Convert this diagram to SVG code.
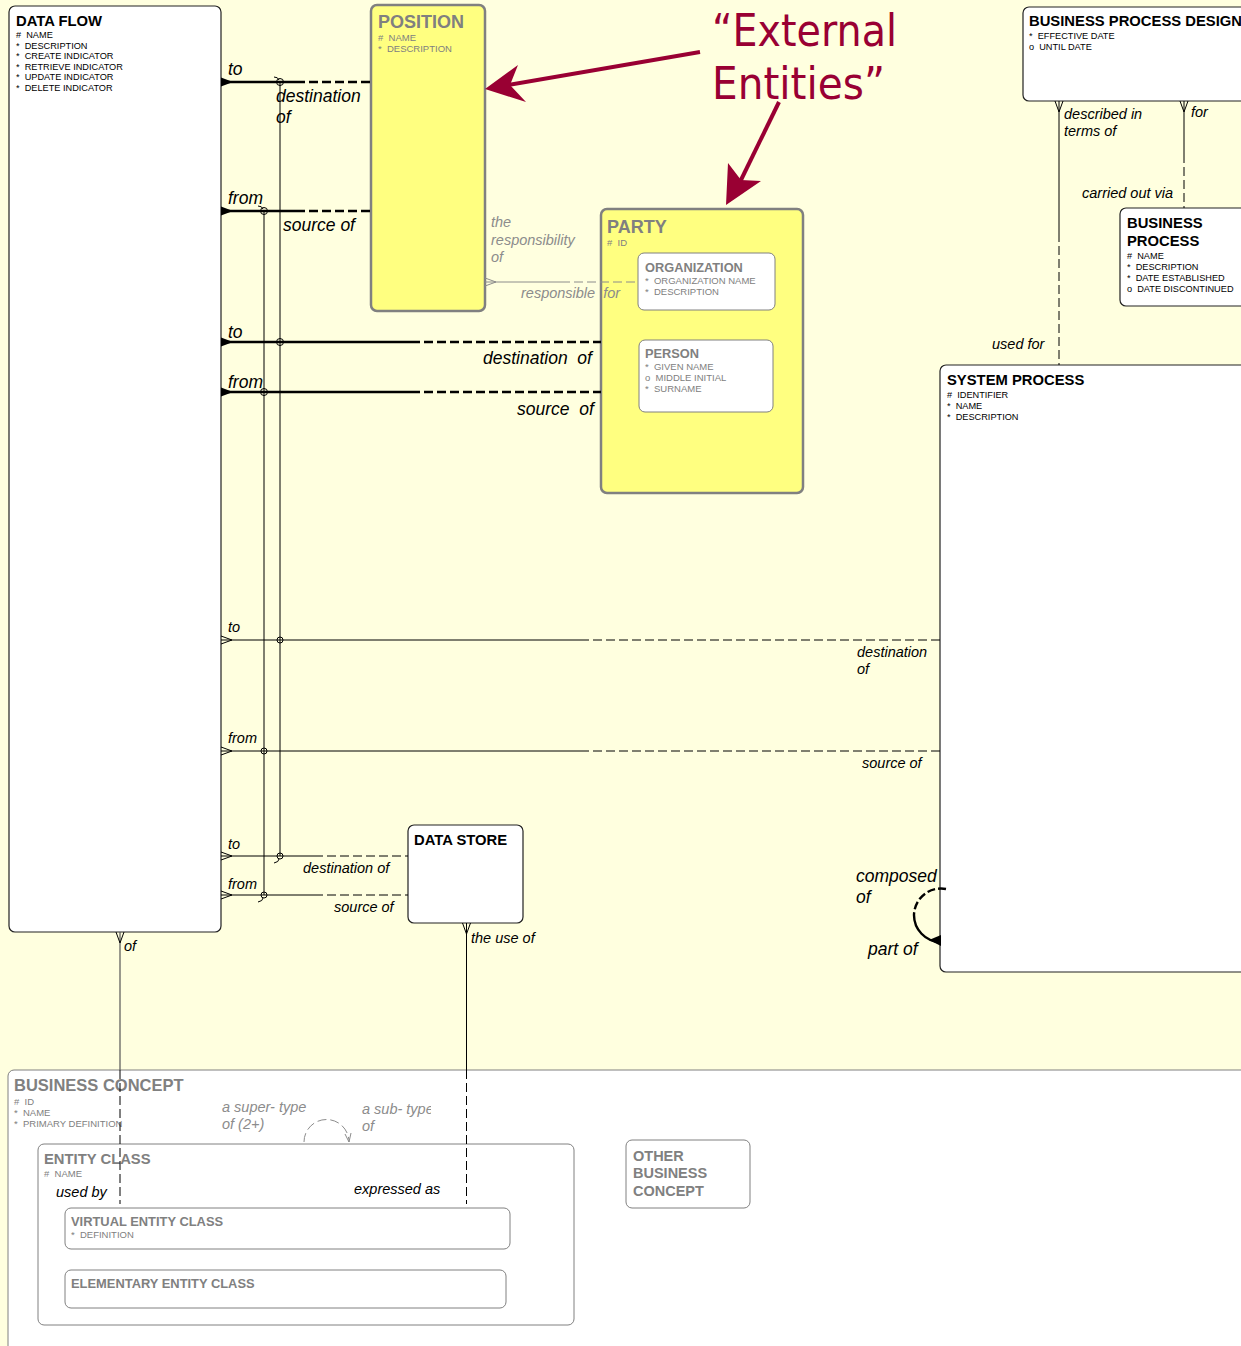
<svg xmlns="http://www.w3.org/2000/svg" width="1241" height="1346" viewBox="0 0 1241 1346">
<defs>
<style>
text{font-family:"Liberation Sans",Arial,sans-serif;white-space:pre}
.t{font-weight:bold;font-size:14.8px;fill:#000}
.tg{font-weight:bold;fill:#808080}
.a{font-size:9.2px;fill:#000}
.ag{font-size:9.5px;fill:#808080}
.rl{font-style:italic;font-size:14.5px;fill:#000}
.rlb{font-style:italic;font-size:17.5px;fill:#000}
.rlg{font-style:italic;font-size:14.5px;fill:#8c8c8c}
.ent{fill:#fff;stroke:#222;stroke-width:1.2}
.ext{fill:#ffff80;stroke:#808080;stroke-width:2.5}
.sub{fill:#fff;stroke:#808080;stroke-width:1}
.thk{stroke:#000;stroke-width:2.5;fill:none}
.thkd{stroke:#000;stroke-width:2.5;fill:none;stroke-dasharray:9 4}
.thn{stroke:#000;stroke-width:1;fill:none}
.thnd{stroke:#000;stroke-width:1;fill:none;stroke-dasharray:9 4}
.gry{stroke:#8c8c8c;stroke-width:1;fill:none}
.gryd{stroke:#8c8c8c;stroke-width:1;fill:none;stroke-dasharray:9 4}
.ring{stroke:#000;stroke-width:1;fill:none}
.ann{fill:#990033;font-family:"Comic Sans MS","DejaVu Sans",sans-serif;font-size:44px}
</style>
<clipPath id="clipSub"><rect x="350" y="1095" width="81" height="45"/></clipPath>
</defs>

<rect x="0" y="0" width="1241" height="1346" fill="#ffffdf"/>

<!-- BUSINESS CONCEPT (background container) -->
<g id="business-concept">
<rect x="8" y="1070" width="1260" height="300" rx="6" class="sub"/>
<text x="14" y="1091" class="tg" font-size="16.5">BUSINESS CONCEPT</text>
<text x="14" y="1105" class="ag">#  ID</text>
<text x="14" y="1116" class="ag">*  NAME</text>
<text x="14" y="1127" class="ag">*  PRIMARY DEFINITION</text>
</g>

<g id="entity-class">
<rect x="38" y="1144" width="536" height="181" rx="6" class="sub"/>
<text x="44" y="1164" class="tg" font-size="14.8">ENTITY CLASS</text>
<text x="44" y="1177" class="ag">#  NAME</text>
</g>

<g id="virtual-entity-class">
<rect x="65" y="1208" width="445" height="41" rx="6" class="sub"/>
<text x="71" y="1226" class="tg" font-size="12.9">VIRTUAL ENTITY CLASS</text>
<text x="71" y="1238" class="ag">*  DEFINITION</text>
</g>

<g id="elementary-entity-class">
<rect x="65" y="1270" width="441" height="38" rx="6" class="sub"/>
<text x="71" y="1288" class="tg" font-size="12.9">ELEMENTARY ENTITY CLASS</text>
</g>

<g id="other-business-concept">
<rect x="626" y="1140" width="124" height="68" rx="6" class="sub"/>
<text x="633" y="1161" class="tg" font-size="14.5">OTHER</text>
<text x="633" y="1178" class="tg" font-size="14.5">BUSINESS</text>
<text x="633" y="1196" class="tg" font-size="14.5">CONCEPT</text>
</g>

<!-- DATA FLOW -->
<g id="data-flow">
<rect x="9" y="6" width="212" height="926" rx="6" class="ent"/>
<text x="16" y="26" class="t">DATA FLOW</text>
<text x="16" y="38" class="a">#  NAME</text>
<text x="16" y="49" class="a">*  DESCRIPTION</text>
<text x="16" y="59" class="a">*  CREATE INDICATOR</text>
<text x="16" y="70" class="a">*  RETRIEVE INDICATOR</text>
<text x="16" y="80" class="a">*  UPDATE INDICATOR</text>
<text x="16" y="91" class="a">*  DELETE INDICATOR</text>
</g>

<!-- POSITION -->
<g id="position">
<rect x="371" y="5" width="114" height="306" rx="6" class="ext"/>
<text x="378" y="28" class="tg" font-size="18">POSITION</text>
<text x="378" y="41" class="ag">#  NAME</text>
<text x="378" y="52" class="ag">*  DESCRIPTION</text>
</g>

<!-- PARTY -->
<g id="party">
<rect x="601" y="209" width="202" height="284" rx="6" class="ext"/>
<text x="607" y="233" class="tg" font-size="18">PARTY</text>
<text x="607" y="246" class="ag">#  ID</text>
</g>
<g id="organization">
<rect x="638" y="253" width="137" height="57" rx="6" class="sub"/>
<text x="645" y="272" class="tg" font-size="12.8">ORGANIZATION</text>
<text x="645" y="284" class="ag">*  ORGANIZATION NAME</text>
<text x="645" y="295" class="ag">*  DESCRIPTION</text>
</g>
<g id="person">
<rect x="639" y="340" width="134" height="72" rx="6" class="sub"/>
<text x="645" y="358" class="tg" font-size="12.8">PERSON</text>
<text x="645" y="370" class="ag">*  GIVEN NAME</text>
<text x="645" y="381" class="ag">o  MIDDLE INITIAL</text>
<text x="645" y="392" class="ag">*  SURNAME</text>
</g>

<!-- BUSINESS PROCESS DESIGN -->
<g id="business-process-design">
<rect x="1023" y="7" width="240" height="94" rx="6" class="ent"/>
<text x="1029" y="26" class="t">BUSINESS PROCESS DESIGN</text>
<text x="1029" y="39" class="a">*  EFFECTIVE DATE</text>
<text x="1029" y="50" class="a">o  UNTIL DATE</text>
</g>

<!-- BUSINESS PROCESS -->
<g id="business-process">
<rect x="1120" y="208" width="140" height="98" rx="6" class="ent"/>
<text x="1127" y="228" class="t">BUSINESS</text>
<text x="1127" y="246" class="t">PROCESS</text>
<text x="1127" y="259" class="a">#  NAME</text>
<text x="1127" y="270" class="a">*  DESCRIPTION</text>
<text x="1127" y="281" class="a">*  DATE ESTABLISHED</text>
<text x="1127" y="292" class="a">o  DATE DISCONTINUED</text>
</g>

<!-- SYSTEM PROCESS -->
<g id="system-process">
<rect x="940" y="365" width="320" height="607" rx="6" class="ent"/>
<text x="947" y="385" class="t">SYSTEM PROCESS</text>
<text x="947" y="398" class="a">#  IDENTIFIER</text>
<text x="947" y="409" class="a">*  NAME</text>
<text x="947" y="420" class="a">*  DESCRIPTION</text>
</g>

<!-- DATA STORE -->
<g id="data-store">
<rect x="408" y="825" width="115" height="98" rx="6" class="ent"/>
<text x="414" y="845" class="t">DATA STORE</text>
</g>

<!-- CONNECTORS -->
<g id="connectors">
<!-- arc verticals -->
<line x1="280" y1="82" x2="280" y2="856" class="thn"/>
<line x1="264" y1="211" x2="264" y2="895" class="thn"/>

<!-- Data Flow - Position (to) -->
<line x1="221" y1="82" x2="296" y2="82" class="thk"/>
<line x1="296" y1="82" x2="371" y2="82" class="thkd"/>
<polygon points="221,77.5 233,82 221,86.5" fill="#000"/>
<circle cx="280" cy="82" r="3.5" class="ring"/>
<path d="M274,77 Q278,77 279,80" class="thn"/>
<!-- Data Flow - Position (from) -->
<line x1="221" y1="211" x2="296" y2="211" class="thk"/>
<line x1="296" y1="211" x2="371" y2="211" class="thkd"/>
<polygon points="221,206.5 233,211 221,215.5" fill="#000"/>
<circle cx="264" cy="211" r="3.5" class="ring"/>
<path d="M258,206 Q262,206 263,209" class="thn"/>

<!-- Data Flow - Party (to) -->
<line x1="221" y1="342" x2="411" y2="342" class="thk"/>
<line x1="411" y1="342" x2="601" y2="342" class="thkd"/>
<polygon points="221,337.5 233,342 221,346.5" fill="#000"/>
<circle cx="280" cy="342" r="3.5" class="ring"/>
<!-- Data Flow - Party (from) -->
<line x1="221" y1="392" x2="411" y2="392" class="thk"/>
<line x1="411" y1="392" x2="601" y2="392" class="thkd"/>
<polygon points="221,387.5 233,392 221,396.5" fill="#000"/>
<circle cx="264" cy="392" r="3.5" class="ring"/>

<!-- Data Flow - System Process (to) -->
<line x1="221" y1="640" x2="580" y2="640" class="thn"/>
<line x1="580" y1="640" x2="940" y2="640" class="thnd"/>
<path d="M221,636 L232,640 L221,644" class="thn"/>
<circle cx="280" cy="640" r="3" class="ring"/>
<!-- Data Flow - System Process (from) -->
<line x1="221" y1="751" x2="580" y2="751" class="thn"/>
<line x1="580" y1="751" x2="940" y2="751" class="thnd"/>
<path d="M221,747 L232,751 L221,755" class="thn"/>
<circle cx="264" cy="751" r="3" class="ring"/>

<!-- Data Flow - Data Store (to) -->
<line x1="221" y1="856" x2="314" y2="856" class="thn"/>
<line x1="314" y1="856" x2="408" y2="856" class="thnd"/>
<path d="M221,852 L232,856 L221,860" class="thn"/>
<circle cx="280" cy="856" r="3" class="ring"/>
<path d="M279,859 Q279,862 274,863" class="thn"/>
<!-- Data Flow - Data Store (from) -->
<line x1="221" y1="895" x2="314" y2="895" class="thn"/>
<line x1="314" y1="895" x2="408" y2="895" class="thnd"/>
<path d="M221,891 L232,895 L221,899" class="thn"/>
<circle cx="264" cy="895" r="3" class="ring"/>
<path d="M263,898 Q263,901 258,902" class="thn"/>

<!-- Position - Organization (responsible for) -->
<line x1="485" y1="282" x2="561" y2="282" class="gry"/>
<line x1="561" y1="282" x2="638" y2="282" class="gryd"/>
<path d="M485,278 L496,282 L485,286" class="gry"/>

<!-- BPD - System Process -->
<line x1="1059" y1="101" x2="1059" y2="233" class="thn"/>
<line x1="1059" y1="233" x2="1059" y2="365" class="thnd"/>
<path d="M1055,101 L1059,112 L1063,101" class="thn"/>
<!-- BPD - Business Process -->
<line x1="1184" y1="101" x2="1184" y2="154" class="thn"/>
<line x1="1184" y1="154" x2="1184" y2="208" class="thnd"/>
<path d="M1180,101 L1184,112 L1188,101" class="thn"/>

<!-- System Process recursive -->
<path d="M946,889 A27,27 0 0 0 914,915" stroke="#000" stroke-width="2.4" fill="none" stroke-dasharray="8 3"/>
<path d="M914,915 A27,27 0 0 0 940,942" stroke="#000" stroke-width="2.4" fill="none"/>
<polygon points="941,935 929,940 941,946" fill="#000"/>

<!-- Data Flow - Entity Class -->
<line x1="120" y1="932" x2="120" y2="1070" stroke="#555" stroke-width="1.2"/>
<line x1="120" y1="1070" x2="120" y2="1204" stroke="#000" stroke-width="1" stroke-dasharray="9 4"/>
<path d="M116,932 L120,943 L124,932" class="thn"/>
<!-- Data Store - Entity Class -->
<line x1="466.5" y1="923" x2="466.5" y2="1070" class="thn"/>
<line x1="466.5" y1="1070" x2="466.5" y2="1204" class="thnd"/>
<path d="M462.5,923 L466.5,934 L470.5,923" class="thn"/>

<!-- Business concept subtype arc -->
<path d="M304,1142 A22,22 0 0 1 349,1142" class="gryd" stroke-dasharray="6 3"/>
<path d="M345,1134 L349,1142 L351,1133" class="gry"/>
</g>

<!-- relationship labels -->
<g id="labels">
<text x="228" y="75" class="rlb">to</text>
<text x="276" y="102" class="rlb">destination</text>
<text x="276" y="123" class="rlb">of</text>
<text x="228" y="204" class="rlb">from</text>
<text x="283" y="231" class="rlb">source of</text>
<text x="228" y="338" class="rlb">to</text>
<text x="483" y="364" class="rlb">destination  of</text>
<text x="228" y="388" class="rlb">from</text>
<text x="517" y="415" class="rlb">source  of</text>
<text x="228" y="632" class="rl" font-size="13.5">to</text>
<text x="857" y="657" class="rl">destination</text>
<text x="857" y="674" class="rl">of</text>
<text x="228" y="743" class="rl">from</text>
<text x="862" y="768" class="rl">source of</text>
<text x="228" y="849" class="rl">to</text>
<text x="303" y="873" class="rl">destination of</text>
<text x="228" y="889" class="rl">from</text>
<text x="334" y="912" class="rl">source of</text>
<text x="491" y="227" class="rlg">the</text>
<text x="491" y="245" class="rlg">responsibility</text>
<text x="491" y="262" class="rlg">of</text>
<text x="521" y="298" class="rlg">responsible  for</text>
<text x="1064" y="119" class="rl">described in</text>
<text x="1064" y="136" class="rl">terms of</text>
<text x="1191" y="117" class="rl">for</text>
<text x="1082" y="198" class="rl">carried out via</text>
<text x="992" y="349" class="rl">used for</text>
<text x="856" y="882" class="rlb" font-size="18">composed</text>
<text x="856" y="903" class="rlb" font-size="18">of</text>
<text x="868" y="955" class="rlb">part of</text>
<text x="124" y="951" class="rl">of</text>
<text x="471" y="943" class="rl">the use of</text>
<text x="222" y="1112" class="rlg">a super- type</text>
<text x="222" y="1129" class="rlg">of (2+)</text>
<text x="362" y="1114" class="rlg" clip-path="url(#clipSub)">a sub- type</text>
<text x="362" y="1131" class="rlg">of</text>
<text x="56" y="1197" class="rl">used by</text>
<text x="354" y="1194" class="rl">expressed as</text>
</g>

<!-- annotation -->
<g id="annotation">
<text x="712" y="46" class="ann" textLength="185" lengthAdjust="spacingAndGlyphs">“External</text>
<text x="712" y="99" class="ann" textLength="173" lengthAdjust="spacingAndGlyphs">Entities”</text>
<line x1="700" y1="52" x2="508" y2="85" stroke="#990033" stroke-width="4"/>
<polygon points="485,89 518,65 510,85 526,102" fill="#990033"/>
<line x1="779" y1="102" x2="740" y2="182" stroke="#990033" stroke-width="4"/>
<polygon points="726,205 728,163 741,180 761,181" fill="#990033"/>
</g>
</svg>
